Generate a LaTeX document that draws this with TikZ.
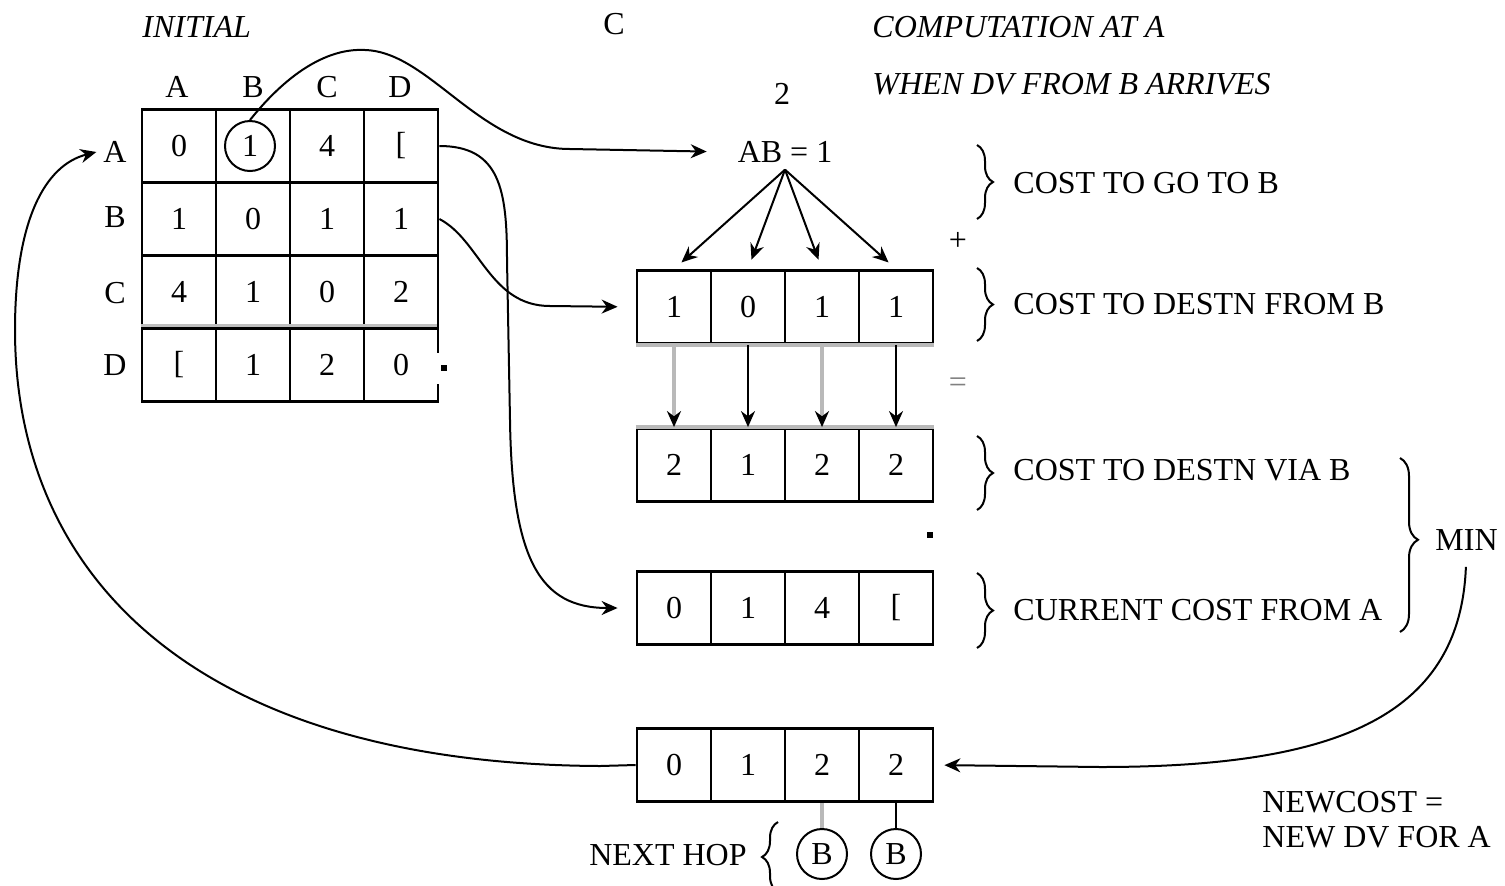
\documentclass[tikz,border=0pt]{standalone}
\usepackage{fontspec}
\setmainfont{Liberation Serif}
\usetikzlibrary{arrows.meta,decorations.pathreplacing}

\begin{document}
\begin{tikzpicture}[x=0.5pt,y=-0.5pt,font=\fontsize{16}{19}\selectfont,
	cell/.style={draw,line width=1.4pt,minimum width=37pt,minimum height=36.5pt,inner sep=0pt},
	hop/.style={circle,draw,line width=1pt,minimum size=25pt,inner sep=0pt},
	link/.style={line width=1pt,-{Stealth[length=8pt,width=7pt]}},
	fade/.style={gray!55,line width=2pt},
	brc/.style={decorate,decoration={brace,amplitude=8pt},line width=1pt},
	note/.style={anchor=west,inner sep=0pt}]
	\useasboundingbox (0,0) rectangle (1505,885);
	% headings
	\node[note] (initial) at (142,27) {\itshape INITIAL};
	\node (c) at (614,24) {C};
	\node[note] (head1) at (872,27) {\itshape COMPUTATION AT A};
	\node[note] (head2) at (872,84) {\itshape WHEN DV FROM B ARRIVES};
	\node (two) at (782,94) {2};
	% distance table at A
	\node (cA) at (177,87) {A}; \node (cB) at (253,87) {B}; \node (cC) at (327,87) {C}; \node (cD) at (400,87) {D};
	\node (rA) at (115,152) {A}; \node (rB) at (115,217) {B}; \node (rC) at (115,293) {C}; \node (rD) at (115,365) {D};
	\node[cell] (mAA) at (179,146) {0}; \node[cell] (mAB) at (253,146) {}; \node[cell] (mAC) at (327,146) {4}; \node[cell] (mAD) at (401,146) {[};
	\node[cell] (mBA) at (179,219) {1}; \node[cell] (mBB) at (253,219) {0}; \node[cell] (mBC) at (327,219) {1}; \node[cell] (mBD) at (401,219) {1};
	\node[cell] (mCA) at (179,292) {4}; \node[cell] (mCB) at (253,292) {1}; \node[cell] (mCC) at (327,292) {0}; \node[cell] (mCD) at (401,292) {2};
	\node[cell] (mDA) at (179,365) {[}; \node[cell] (mDB) at (253,365) {1}; \node[cell] (mDC) at (327,365) {2}; \node[cell] (mDD) at (401,365) {0};
	\node[hop] (ab1) at (250,146) {1};
	\draw[gray!50,line width=1.5pt] (mCA.south west) ++(0,-4) -- ++(296,0);
	\draw[white,line width=3pt] (438,353) -- (438,384);
	\fill (441,365) rectangle (447,371);
	% cost to go to B
	\node (ab) at (785,152) {AB = 1};
	% vectors
	\node[cell] (fb1) at (674,307) {1}; \node[cell] (fb2) at (748,307) {0}; \node[cell] (fb3) at (822,307) {1}; \node[cell] (fb4) at (896,307) {1};
	\node[cell] (vb1) at (674,465) {2}; \node[cell] (vb2) at (748,465) {1}; \node[cell] (vb3) at (822,465) {2}; \node[cell] (vb4) at (896,465) {2};
	\node[cell] (cur1) at (674,608) {0}; \node[cell] (cur2) at (748,608) {1}; \node[cell] (cur3) at (822,608) {4}; \node[cell] (cur4) at (896,608) {[};
	\node[cell] (nc1) at (674,765) {0}; \node[cell] (nc2) at (748,765) {1}; \node[cell] (nc3) at (822,765) {2}; \node[cell] (nc4) at (896,765) {2};
	\draw[fade] (fb1.south west) -- (fb4.south east);
	\draw[fade] (vb1.north west) -- (vb4.north east);
	\fill (927,532) rectangle (933,538);
	% next hop
	\node[hop] (nh1) at (822,854) {B};
	\node[hop] (nh2) at (896,854) {B};
	\draw[fade] (nc3.south) -- (nh1.north);
	\draw[line width=1pt] (nc4.south) -- (nh2.north);
	\node[anchor=east,inner sep=0pt] (nexthop) at (747,855) {NEXT HOP};
	\draw[brc] (778,892) -- (778,822);
	% adding
	\foreach \t in {fb1,fb2,fb3,fb4} \draw[link,shorten >=5pt] (ab.south) -- (\t.north);
	\draw[link,fade,-{Stealth[length=8pt,width=7pt,color=black]}] (fb1.south) -- (vb1.north);
	\draw[link] (fb2.south) -- (vb2.north);
	\draw[link,fade,-{Stealth[length=8pt,width=7pt,color=black]}] (fb3.south) -- (vb3.north);
	\draw[link] (fb4.south) -- (vb4.north);
	% legend
	\draw[brc] (977,145) -- (977,219);
	\node[note] (go) at (1013,183) {COST TO GO TO B};
	\node (plus) at (958,241) {+};
	\draw[brc] (977,268) -- (977,341);
	\node[note] (from) at (1013,304) {COST TO DESTN FROM B};
	\node[text=gray] (eq) at (958,385) {=};
	\draw[brc] (977,436) -- (977,510);
	\node[note] (via) at (1013,470) {COST TO DESTN VIA B};
	\draw[brc] (977,573) -- (977,648);
	\node[note] (cur) at (1013,610) {CURRENT COST FROM A};
	\draw[brc,decoration={aspect=0.47,amplitude=9pt}] (1400,458) -- (1400,632);
	\node[note] (min) at (1435,540) {MIN};
	\node[note] (new1) at (1262,802) {NEWCOST =};
	\node[note] (new2) at (1262,837) {NEW DV FOR A};
	% connectors
	\draw[link,shorten >=12pt] (ab1.north) .. controls (290,70) and (330,48) .. (365,50)
		.. controls (430,52) and (480,149) .. (570,149) -- (ab.west);
	\draw[link,shorten >=9pt] (mAD.east) .. controls (500,146) and (507,190) .. (507,260) -- (510,420)
		.. controls (512,560) and (540,608) .. (cur1.west);
	\draw[link,shorten >=9pt] (mBD.east) .. controls (480,240) and (490,306) .. (550,306) -- (fb1.west);
	\draw[link,shorten <=8pt,shorten >=5pt] (min.south) .. controls (1460,720) and (1330,767) .. (1100,767) -- (nc4.east);
	\draw[link] (nc1.west) -- (600,766) .. controls (200,764) and (15,580) .. (15,330)
		.. controls (15,220) and (45,165) .. (rA.west);
\end{tikzpicture}
\end{document}
